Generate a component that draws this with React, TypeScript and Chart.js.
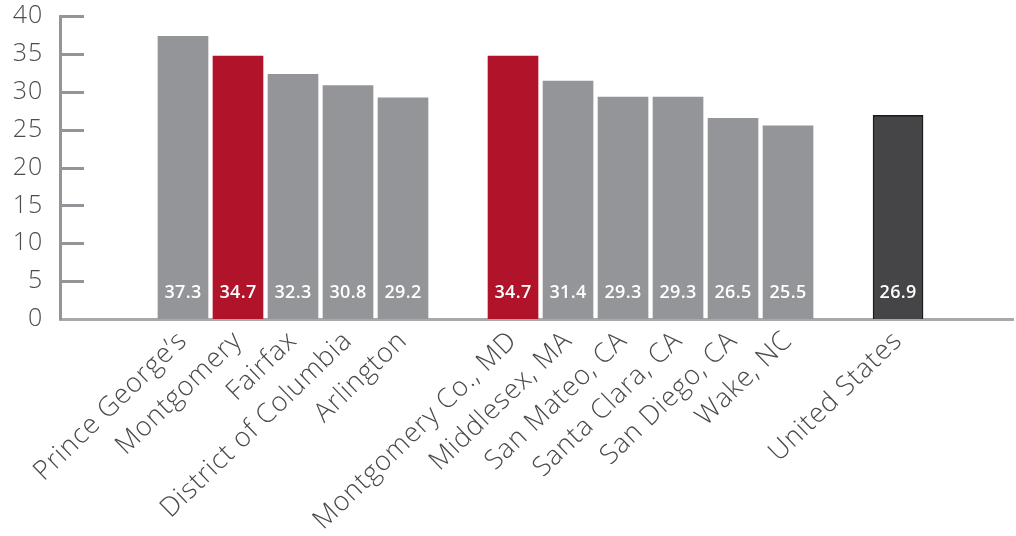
import React, { useEffect, useRef } from "react";
import { Chart, registerables } from "chart.js";

Chart.register(...registerables);

const categories = [
  "Prince George’s",
  "Montgomery",
  "Fairfax",
  "District of Columbia",
  "Arlington",
  "Montgomery Co., MD",
  "Middlesex, MA",
  "San Mateo, CA",
  "Santa Clara, CA",
  "San Diego, CA",
  "Wake, NC",
  "United States",
];
// slot positions on the x axis (gaps between groups)
const positions = [1, 2, 3, 4, 5, 7, 8, 9, 10, 11, 12, 14];
const values = [37.3, 34.7, 32.3, 30.8, 29.2, 34.7, 31.4, 29.3, 29.3, 26.5, 25.5, 26.9];
const kinds = ["g", "r", "g", "g", "g", "r", "g", "g", "g", "g", "g", "d"];
const yTicks = [0, 5, 10, 15, 20, 25, 30, 35, 40];

const COLORS: Record<string, string> = { g: "#939598", r: "#B0132A", d: "#454547" };
const FONT = "'Open Sans', Lato, sans-serif";

const axisPlugin = {
  id: "axisTicks",
  beforeDraw(chart: any) {
    chart.ctx.letterSpacing = "0.8px";
  },
  afterDraw(chart: any) {
    const ctx = chart.ctx;
    const y = chart.scales.y;
    const area = chart.chartArea;
    ctx.save();
    ctx.strokeStyle = "#939598";
    ctx.lineWidth = 3;
    yTicks.forEach((t) => {
      if (t === 0) return;
      const py = Math.round(y.getPixelForValue(t)) + 0.5;
      ctx.beginPath();
      ctx.moveTo(area.left, py);
      ctx.lineTo(area.left + 24, py);
      ctx.stroke();
    });
    ctx.restore();
  },
  afterDatasetsDraw(chart: any) {
    const ctx = chart.ctx;
    const meta = chart.getDatasetMeta(0);
    const y = chart.scales.y;
    ctx.save();
    ctx.letterSpacing = "0.3px";
    ctx.fillStyle = "#ffffff";
    ctx.font = "600 18px " + FONT;
    ctx.textAlign = "center";
    ctx.textBaseline = "middle";
    meta.data.forEach((bar: any, i: number) => {
      ctx.fillText(values[i].toFixed(1), bar.x, y.getPixelForValue(0) - 26);
    });
    ctx.restore();
  },
};

export default function App() {
  const ref = useRef<HTMLCanvasElement>(null);
  useEffect(() => {
    if (!ref.current) return;
    const chart = new Chart(ref.current, {
      type: "bar",
      data: {
        datasets: [
          {
            data: positions.map((p, i) => ({ x: p, y: values[i] })),
            backgroundColor: kinds.map((k) => COLORS[k]),
            borderColor: kinds.map((k) => (k === "d" ? "#1a1a1a" : "rgba(0,0,0,0)")),
            borderWidth: kinds.map((k) => (k === "d" ? 1.5 : 0)),
            barThickness: 50,
          },
        ],
      },
      options: {
        animation: false,
        responsive: true,
        maintainAspectRatio: false,
        layout: { padding: { top: 16, right: 3, left: 0, bottom: 0 } },
        plugins: { legend: { display: false }, tooltip: { enabled: false } },
        scales: {
          x: {
            type: "linear",
            offset: false,
            min: -1.236,
            max: 16.09,
            grid: { display: false, drawTicks: false },
            border: { display: true, color: "#A7A9AC", width: 3 },
            afterBuildTicks: (scale: any) => {
              scale.ticks = positions.map((p) => ({ value: p }));
            },
            afterFit: (scale: any) => {
              scale.height = 217;
              scale.paddingLeft = 0;
              scale.paddingRight = 0;
            },
            ticks: {
              autoSkip: false,
              minRotation: 44,
              maxRotation: 44,
              padding: 6,
              color: "#4a4a4a",
              font: { family: FONT, size: 27, weight: 300 },
              callback: (v: any) => {
                const idx = positions.indexOf(Number(v));
                return idx >= 0 ? categories[idx] : "";
              },
            },
          },
          y: {
            min: 0,
            max: 40,
            grid: { display: false, drawTicks: false },
            border: { display: true, color: "#939598", width: 3 },
            afterFit: (scale: any) => {
              scale.width = 60;
              scale.paddingTop = 0;
              scale.paddingBottom = 0;
            },
            ticks: {
              stepSize: 5,
              padding: 17,
              color: "#4d4d4f",
              font: { family: FONT, size: 25, weight: 300 },
            },
          },
        },
      },
      plugins: [axisPlugin],
    });
    return () => chart.destroy();
  }, []);
  return (
    <div style={{ position: "absolute", left: 0, top: 0, width: 1016, height: 536, background: "#fff" }}>
      <canvas ref={ref} />
    </div>
  );
}
